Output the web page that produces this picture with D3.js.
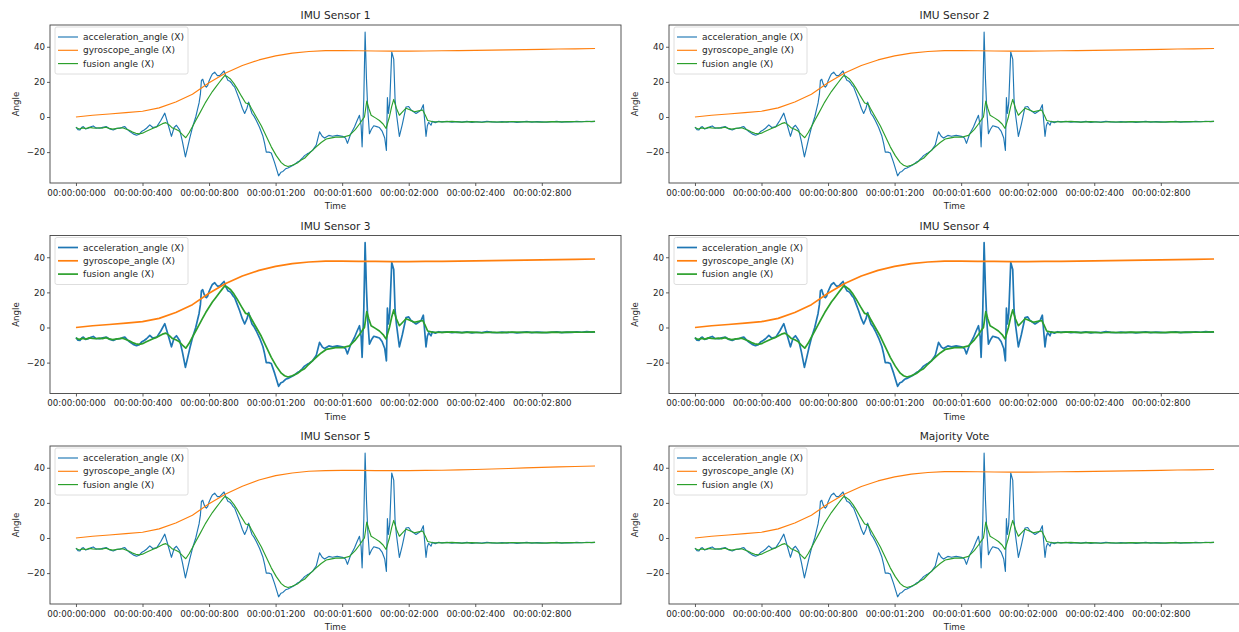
<!DOCTYPE html>
<html>
<head>
<meta charset="utf-8">
<script src="https://cdn.jsdelivr.net/npm/d3@7"></script>
<style>
  body { margin: 0; background: #fff; }
  svg { display: block; }
  text { font-family: "DejaVu Sans", sans-serif; fill: #262626; }
</style>
</head>
<body>
<svg id="chart" width="1239" height="632"></svg>
<script>
// panel titles, in reading order (2 columns x 3 rows)
const titles = ['IMU Sensor 1', 'IMU Sensor 2', 'IMU Sensor 3', 'IMU Sensor 4', 'IMU Sensor 5', 'Majority Vote'];
const seriesNames = ['acceleration_angle (X)', 'gyroscope_angle (X)', 'fusion angle (X)'];

const xTicks = [0, 400, 800, 1200, 1600, 2000, 2400, 2800];
const xTickLabels = ['00:00:00:000', '00:00:00:400', '00:00:00:800', '00:00:01:200',
  '00:00:01:600', '00:00:02:000', '00:00:02:400', '00:00:02:800'];
const yTicks = [-20, 0, 20, 40];

// acceleration angle (ms, degrees)
const accTime = [0, 12, 24, 36, 44, 58, 74, 90, 104, 120, 144, 160, 184, 204, 224, 244, 264, 280, 294, 310,
  324, 344, 364, 380, 394, 410, 424, 444, 462, 486, 510, 534, 550, 574, 590, 604, 624, 640, 658, 672,
  684, 700, 710, 720, 730, 740, 748, 754, 762, 770, 778, 784, 792, 800, 812, 820, 834, 842, 850, 864,
  878, 890, 902, 914, 924, 934, 944, 954, 962, 970, 984, 1000, 1014, 1028, 1038, 1048, 1058, 1070, 1084, 1104,
  1124, 1134, 1144, 1160, 1174, 1194, 1210, 1218, 1232, 1244, 1260, 1274, 1294, 1314, 1334, 1344, 1360, 1374, 1390, 1400,
  1422, 1444, 1464, 1480, 1494, 1520, 1542, 1570, 1602, 1620, 1632, 1650, 1674, 1690, 1704, 1714, 1720, 1730, 1738, 1746,
  1754, 1764, 1776, 1790, 1808, 1824, 1840, 1856, 1866, 1872, 1878, 1886, 1898, 1910, 1918, 1926, 1944, 1962, 1984, 2000,
  2014, 2030, 2044, 2060, 2074, 2088, 2096, 2104, 2112, 2120, 2134, 2142, 2160, 2180, 2200, 2230, 2260, 2290, 2320, 2350,
  2380, 2410, 2440, 2470, 2500, 2530, 2560, 2590, 2620, 2650, 2680, 2710, 2740, 2770, 2800, 2830, 2860, 2890, 2920, 2950,
  2980, 3010, 3040, 3070, 3100, 3120];
const accAngle = [-5.7, -7.2, -7.4, -5.8, -5.5, -6.8, -6.4, -5.6, -5.1, -6.2, -6.4, -5.9, -5.5, -6.8, -7.4, -6.5, -6.4, -5.8, -5.5, -7.2,
  -8.3, -9.6, -10.4, -9.8, -8.3, -7.4, -6.4, -4.5, -6, -5.5, -2, 2.2, -3, -11, -6, -4.7, -7.5, -14, -22.7, -17,
  -12, -6, -3, 0, 4, 8, 13, 20.8, 21.5, 19, 17.5, 17, 18, 20.5, 23, 24.5, 25.5, 24.5, 23.6, 23.6,
  25, 26.2, 23, 20.8, 20.5, 19.5, 18, 17, 15, 13, 9.5, 5, 2, 5, 8.5, 5, 2, 0.5, -2, -6,
  -11, -15, -20, -20, -20.5, -26, -31, -33.5, -31.5, -31, -29.5, -29, -28, -27, -25.5, -25, -23.5, -22, -21, -20.5,
  -19, -16, -8.5, -11, -12, -10.5, -11, -10.5, -11, -12, -15, -10, -5.7, -2, 1, -5, -17, 10, 48.3, 22,
  4, -9.5, -7, -5, -5.5, -6, -8, -12, -19, 11, 2, 8, 37, 33, 10, 2, -11, -4, 5.7, 6,
  4, 3, 2, 3, 4, 7, -2, -11, -5, -3, -4.7, -2.5, -3.2, -2.4, -2.8, -2.5, -3, -2.6, -2.9, -2.5,
  -3.1, -2.7, -2.9, -2.4, -2.8, -3, -2.6, -2.9, -2.7, -3.1, -2.8, -2.5, -2.9, -2.6, -2.8, -3, -2.7, -2.5, -2.9, -2.6,
  -2.8, -2.5, -2.7, -2.4, -2.6, -2.5];

// gyroscope angle
const gyroTime = [0, 100, 200, 300, 400, 500, 600, 700, 800, 900, 1000, 1100, 1200, 1300, 1400, 1500,
  1600, 1700, 1800, 1900, 2000, 2100, 2200, 2300, 2400, 2500, 2600, 2700, 2800, 2900, 3000, 3120];
const gyroAngle = [0, 1.0, 1.7, 2.5, 3.3, 5.2, 8.5, 13, 19.5, 25, 29.3, 32.5, 34.8, 36.4, 37.3, 37.8,
  37.8, 37.7, 37.6, 37.5, 37.5, 37.6, 37.7, 37.8, 37.9, 38.1, 38.2, 38.4, 38.5, 38.7, 38.8, 39];
const gyroAngleSensor5 = [0, 1.0, 1.7, 2.5, 3.3, 5.2, 8.5, 13, 19.5, 25, 29.5, 33, 35.5, 37, 38, 38.4,
  38.5, 38.5, 38.4, 38.4, 38.4, 38.5, 38.6, 38.8, 39, 39.3, 39.6, 39.9, 40.2, 40.5, 40.7, 41];

// fusion angle
const fusionTime = [0, 20, 40, 60, 80, 100, 120, 140, 160, 180, 200, 220, 240, 260, 280, 300, 320, 340, 360, 380,
  400, 420, 440, 460, 480, 500, 520, 540, 560, 580, 600, 620, 640, 660, 680, 700, 720, 740, 760, 780,
  800, 820, 840, 860, 880, 894, 910, 930, 950, 970, 994, 1020, 1040, 1054, 1084, 1114, 1144, 1174, 1204, 1234,
  1254, 1274, 1300, 1334, 1354, 1374, 1394, 1410, 1444, 1474, 1504, 1530, 1560, 1602, 1644, 1680, 1704, 1722, 1734, 1748,
  1760, 1774, 1800, 1824, 1846, 1864, 1884, 1898, 1910, 1926, 1944, 1964, 1984, 2010, 2034, 2060, 2084, 2100, 2114, 2140,
  2200, 2260, 2320, 2380, 2440, 2500, 2560, 2620, 2680, 2740, 2800, 2860, 2920, 2980, 3040, 3120];
const fusionAngle = [-6, -6.8, -6.2, -6.6, -5.9, -6.2, -6.4, -6.1, -6.3, -5.8, -6.5, -6.9, -6.6, -6.3, -6.1, -6.8, -7.6, -8.6, -9.3, -9.6,
  -9.2, -8.3, -7.4, -6.5, -5.8, -4.8, -3.8, -3.2, -4.5, -6.3, -7, -8, -10, -11.8, -9, -5.5, -2, 1.5, 5, 8.5,
  11.5, 14.5, 17, 19.5, 22, 23.6, 23, 21.5, 19, 16, 12, 8, 7.5, 5, 0, -5, -11, -17, -22, -26,
  -27.5, -28.2, -27.5, -26, -24.5, -23.5, -21.5, -20, -17, -14.5, -12.5, -12, -11.5, -11.5, -10.5, -7, -4, -1.5, 0, 9,
  5, 1, -0.5, -2, -4, -6.5, 0, 6, 10, 5, 1, 3, 5, 4, 3, 3.5, 4, 1, -2, -2.6,
  -2.8, -2.5, -2.9, -2.6, -3, -2.7, -2.9, -2.6, -2.8, -2.7, -2.9, -2.6, -2.8, -2.6, -2.7, -2.5];

const colors = ['#1f77b4', '#ff7f0e', '#2ca02c'];

const colLeft = [50, 669];
const rowTop = [25, 235.5, 446];
const plotW = 571, plotH = 158;

const svg = d3.select('#chart');

function toPoints(times, values) {
  return times.map((t, i) => [t, values[i]]);
}

function drawPanel(i) {
  const col = i % 2, row = Math.floor(i / 2);
  const left = colLeft[col], top = rowTop[row];
  const gyro = i === 4 ? gyroAngleSensor5 : gyroAngle;
  const lineW = row === 1 ? 1.7 : 1.15;

  const series = [
    toPoints(accTime, accAngle),
    toPoints(gyroTime, gyro),
    toPoints(fusionTime, fusionAngle)
  ];

  // matplotlib-style 5% margins
  const allT = series.flat().map(d => d[0]);
  const allV = series.flat().map(d => d[1]);
  const [t0, t1] = d3.extent(allT);
  const [v0, v1] = d3.extent(allV);
  const tp = (t1 - t0) * 0.05, vp = (v1 - v0) * 0.05;

  const x = d3.scaleLinear().domain([t0 - tp, t1 + tp]).range([0, plotW]);
  const y = d3.scaleLinear().domain([v0 - vp, v1 + vp]).range([plotH, 0]);

  const g = svg.append('g').attr('transform', `translate(${left},${top})`);

  g.append('text')
    .attr('x', plotW / 2).attr('y', -6)
    .attr('text-anchor', 'middle')
    .style('font-size', '10.6px')
    .text(titles[i]);

  const line = d3.line().x(d => x(d[0])).y(d => y(d[1]));
  series.forEach((s, k) => {
    g.append('path')
      .datum(s)
      .attr('d', line)
      .attr('fill', 'none')
      .attr('stroke', colors[k])
      .attr('stroke-width', lineW)
      .attr('stroke-linejoin', 'round');
  });

  const xAxis = d3.axisBottom(x)
    .tickValues(xTicks)
    .tickFormat((d, j) => xTickLabels[j])
    .tickSize(3).tickPadding(3.5);
  const gx = g.append('g').attr('transform', `translate(0,${plotH})`).call(xAxis);

  const yAxis = d3.axisLeft(y)
    .tickValues(yTicks)
    .tickFormat(d => d < 0 ? '\u2212' + Math.abs(d) : d)
    .tickSize(3).tickPadding(2);
  const gy = g.append('g').call(yAxis);

  [gx, gy].forEach(a => {
    a.select('.domain').remove();
    a.selectAll('.tick line').attr('stroke', '#333').attr('stroke-width', 0.8);
    a.selectAll('.tick text').style('font-size', '8.7px').attr('fill', '#262626')
      .style('font-family', '"DejaVu Sans", sans-serif');
  });

  // frame
  g.append('rect')
    .attr('width', plotW).attr('height', plotH)
    .attr('fill', 'none').attr('stroke', '#444').attr('stroke-width', 0.9);

  g.append('text')
    .attr('x', plotW / 2).attr('y', plotH + 26)
    .attr('text-anchor', 'middle')
    .style('font-size', '8.7px')
    .text('Time');

  g.append('text')
    .attr('transform', `translate(-31.5,${plotH / 2}) rotate(-90)`)
    .attr('text-anchor', 'middle')
    .style('font-size', '8.7px')
    .text('Angle');

  // legend
  const lg = g.append('g').attr('transform', 'translate(5,2)');
  lg.append('rect')
    .attr('width', 133).attr('height', 47).attr('rx', 2)
    .attr('fill', '#fff').attr('fill-opacity', 0.8)
    .attr('stroke', '#d6d6d6').attr('stroke-width', 0.8);
  seriesNames.forEach((name, k) => {
    const cy = 10 + k * 13.3;
    lg.append('line')
      .attr('x1', 3).attr('x2', 23).attr('y1', cy).attr('y2', cy)
      .attr('stroke', colors[k]).attr('stroke-width', lineW);
    lg.append('text')
      .attr('x', 28).attr('y', cy).attr('dy', '0.35em')
      .style('font-size', '9px')
      .text(name);
  });
}

titles.forEach((t, i) => drawPanel(i));
</script>
</body>
</html>
